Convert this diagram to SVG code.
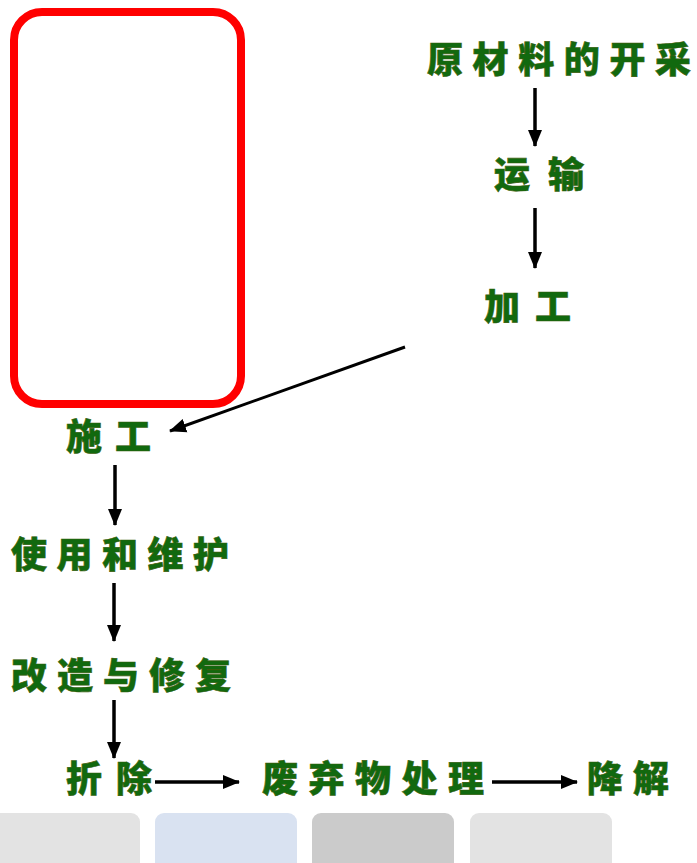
<svg xmlns="http://www.w3.org/2000/svg" width="697" height="863" viewBox="0 0 697 863">
<defs>
<marker id="ah" markerUnits="userSpaceOnUse" markerWidth="17" markerHeight="16" viewBox="0 0 17 16" refX="16" refY="8" orient="auto">
<path d="M0,1 L17,8 L0,15 Z" fill="#000"/>
</marker>
<style>
.t{font-family:"Noto Sans CJK SC","Noto Sans CJK JP",sans-serif;font-weight:900;font-size:36px;fill:#11690f;stroke:#3a5e0a;stroke-width:0.6}
.c line{stroke:#000;stroke-width:3.5;marker-end:url(#ah)}
</style>
</defs>
<rect width="697" height="863" fill="#fff"/>
<g id="highlight"><rect x="14" y="12" width="227" height="392" rx="28" fill="none" stroke="#ff0000" stroke-width="8"/></g>
<g id="n1"><text class="t" x="427" y="73" textLength="264" lengthAdjust="spacing">原材料的开采</text></g>
<g id="n2"><text class="t" x="494" y="188" textLength="90" lengthAdjust="spacing">运输</text></g>
<g id="n3"><text class="t" x="484" y="320" textLength="87" lengthAdjust="spacing">加工</text></g>
<g id="n4"><text class="t" x="66" y="450" textLength="85" lengthAdjust="spacing">施工</text></g>
<g id="n5"><text class="t" x="11" y="568" textLength="218" lengthAdjust="spacing">使用和维护</text></g>
<g id="n6"><text class="t" x="11" y="689" textLength="220" lengthAdjust="spacing">改造与修复</text></g>
<g id="n7"><text class="t" x="66" y="792" textLength="86" lengthAdjust="spacing">折除</text></g>
<g id="n8"><text class="t" x="262" y="792" textLength="222" lengthAdjust="spacing">废弃物处理</text></g>
<g id="n9"><text class="t" x="587" y="792" textLength="82" lengthAdjust="spacing">降解</text></g>
<g id="connectors" class="c">
<line x1="535" y1="88" x2="535" y2="146"/>
<line x1="535" y1="208" x2="535" y2="268"/>
<line style="stroke-width:3" x1="405" y1="347" x2="170" y2="431"/>
<line x1="115" y1="465" x2="115" y2="525"/>
<line x1="114" y1="583" x2="114" y2="641"/>
<line x1="114" y1="700" x2="114" y2="758"/>
<line x1="155" y1="782" x2="239" y2="782"/>
<line x1="492" y1="782" x2="577" y2="782"/>
</g>
<g id="footer">
<rect x="-8" y="813" width="148" height="60" rx="9" fill="#e3e3e3"/>
<rect x="155" y="813" width="142" height="60" rx="9" fill="#d9e2f1"/>
<rect x="312" y="813" width="142" height="60" rx="9" fill="#cbcbcb"/>
<rect x="470" y="813" width="142" height="60" rx="9" fill="#e3e3e3"/>
</g>
</svg>
